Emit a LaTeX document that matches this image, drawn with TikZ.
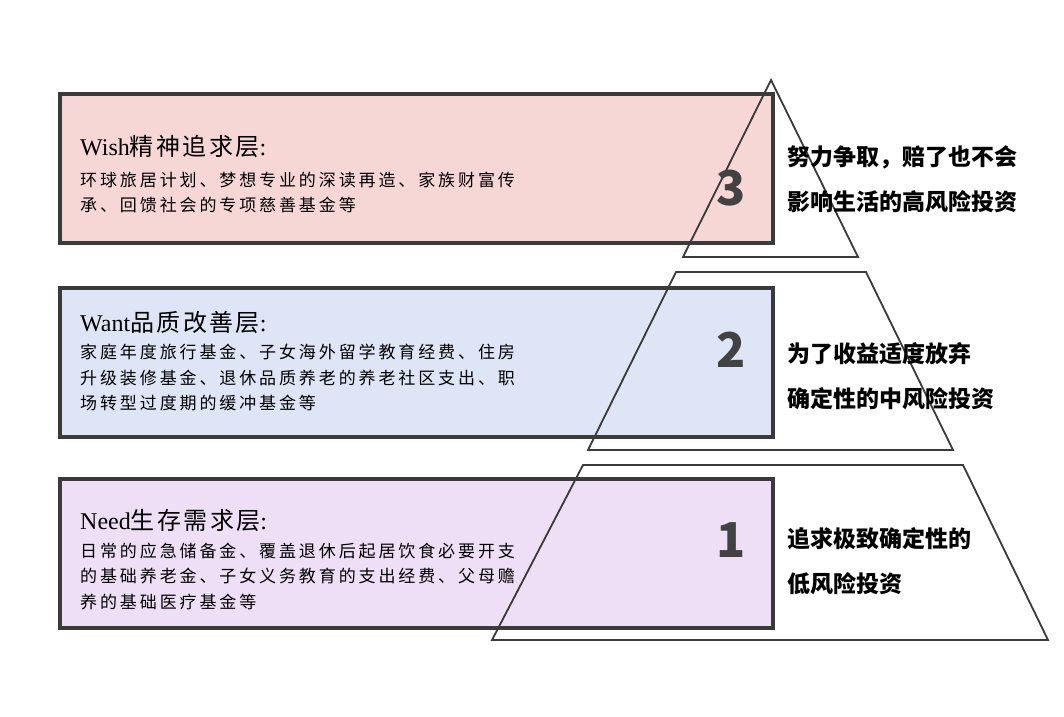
\documentclass[tikz,border=0pt]{standalone}
\usepackage{fontspec}
\setmainfont{Liberation Serif}
\newfontfamily\cjk{Noto Sans CJK SC}
\newfontfamily\cjkbody[LetterSpace=17]{Noto Sans CJK SC}
\newfontfamily\cjktitle[LetterSpace=10]{Noto Sans CJK SC}
\usepackage{tikz}
\usetikzlibrary{positioning}
\usepackage{xcolor}

\definecolor{wishfill}{HTML}{F7D7D6}
\definecolor{wantfill}{HTML}{DDE5F6}
\definecolor{needfill}{HTML}{EEDFF6}
\definecolor{framegray}{HTML}{3A3A3A}
\definecolor{numgray}{HTML}{424242}

\tikzset{
  layerbox/.style={draw=framegray, line width=4pt, minimum width=713pt, minimum height=149pt, inner sep=0pt},
  pyramid/.style={draw=framegray, line width=1.8pt, line join=miter},
  layertitle/.style={anchor=west, inner sep=0pt, font=\fontsize{24}{24}\selectfont},
  layertext/.style={anchor=west, inner sep=0pt, align=left, font=\cjkbody\fontsize{17}{25.5}\selectfont},
  levelnum/.style={inner sep=0pt, text=numgray, font=\cjk\bfseries\fontsize{48}{48}\selectfont},
  risktext/.style={anchor=west, inner sep=0pt, align=left, font=\cjk\bfseries\fontsize{23}{45}\selectfont},
}

\begin{document}
\begin{tikzpicture}[x=1pt, y=-1pt]
    \useasboundingbox (0,0) rectangle (1064,716);

    % Layer boxes
    \node[layerbox, fill=wishfill] (wishbox) at (416.5,168.5) {};
    \node[layerbox, fill=wantfill] (wantbox) at (416.5,362) {};
    \node[layerbox, fill=needfill] (needbox) at (416.5,553) {};

    % Pyramid
    \draw[pyramid] (771,80) -- (858,257) -- (683,257) -- cycle;
    \draw[pyramid] (676,272) -- (866,272) -- (953,450) -- (588,450) -- cycle;
    \draw[pyramid] (583,465) -- (963,465) -- (1048,640) -- (492,640) -- cycle;

    % Wish layer
    \node[layertitle] (wishtitle) at (80,146) {Wish{\cjktitle 精神追求层}:};
    \node[layertext] (wishtext) at (80,192.5) {环球旅居计划、梦想专业的深读再造、家族财富传\\承、回馈社会的专项慈善基金等};

    % Want layer
    \node[layertitle] (wanttitle) at (80,322) {Want{\cjktitle 品质改善层}:};
    \node[layertext] (wanttext) at (80,377.5) {家庭年度旅行基金、子女海外留学教育经费、住房\\升级装修基金、退休品质养老的养老社区支出、职\\场转型过度期的缓冲基金等};

    % Need layer
    \node[layertitle] (needtitle) at (80,520) {Need{\cjktitle 生存需求层}:};
    \node[layertext] (needtext) at (80,576) {日常的应急储备金、覆盖退休后起居饮食必要开支\\的基础养老金、子女义务教育的支出经费、父母赡\\养的基础医疗基金等};

    % Levels
    \node[levelnum] (level3) at (731,188) {3};
    \node[levelnum] (level2) at (731,350) {2};
    \node[levelnum] (level1) at (731,540) {1};

    % Risk notes
    \node[risktext] (risk3) at (787,179) {努力争取，赔了也不会\\影响生活的高风险投资};
    \node[risktext] (risk2) at (787,376) {为了收益适度放弃\\确定性的中风险投资};
    \node[risktext] (risk1) at (787,561.5) {追求极致确定性的\\低风险投资};
\end{tikzpicture}
\end{document}
